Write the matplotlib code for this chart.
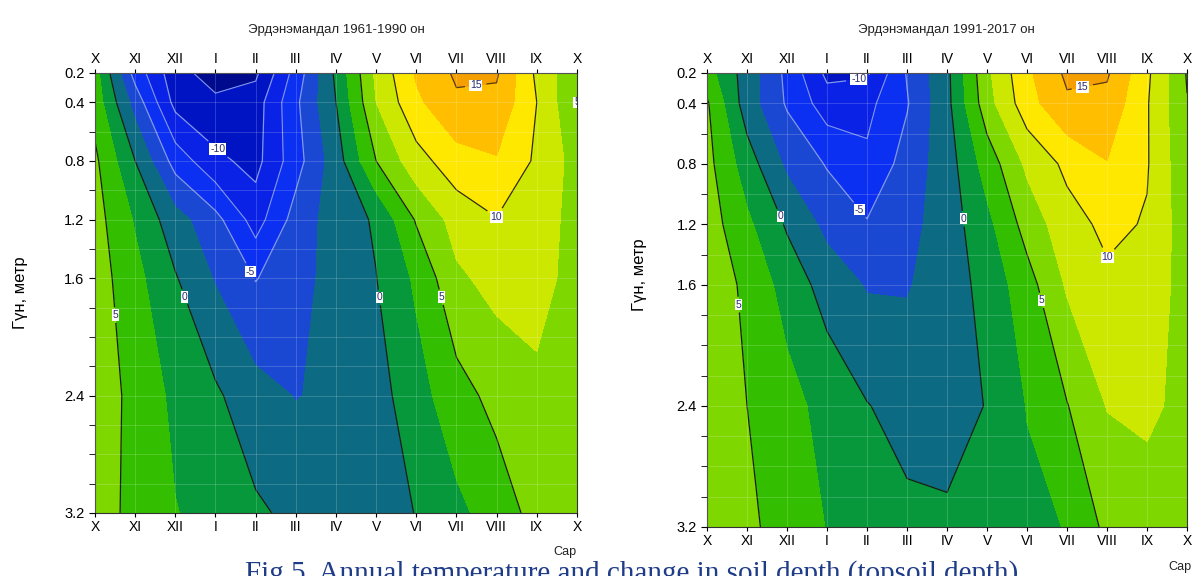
import numpy as np
import matplotlib.pyplot as plt
from matplotlib.colors import ListedColormap, BoundaryNorm
from matplotlib.ticker import FixedLocator, MultipleLocator

plt.rcParams['font.family'] = ['Liberation Sans', 'DejaVu Sans']

months = ['X', 'XI', 'XII', 'I', 'II', 'III', 'IV', 'V', 'VI', 'VII', 'VIII', 'IX', 'X']
depths = [0.2, 0.4, 0.8, 1.2, 1.6, 2.4, 3.2]
depth_ticks = [0.2, 0.4, 0.8, 1.2, 1.6, 2.4, 3.2]

# soil temperature, rows = depth, columns = month (X .. X)
t_1961 = [
    [3.5, -6.0, -11.6, -13.6, -13.0, -6.5, 0.5, 8.0, 12.8, 15.4, 15.3, 9.5, 5.5],
    [4.0, -3.5, -10.8, -12.0, -11.2, -5.5, 0.0, 7.5, 12.0, 14.6, 14.4, 10.0, 5.0],
    [5.5, 0.0, -6.0, -9.4, -10.8, -6.0, -1.2, 5.0, 9.0, 11.5, 12.3, 9.6, 6.5],
    [6.0, 2.25, -1.5, -4.2, -8.6, -4.0, -1.3, 0.3, 5.25, 8.46, 9.9, 8.2, 7.0],
    [6.3, 3.26, 0.2, -2.7, -5.1, -3.6, -1.4, -0.05, 2.94, 7.06, 8.3, 8.0, 7.0],
    [6.2, 4.4, 1.87, 0.4, -1.6, -2.6, -2.0, -1.0, 1.5, 4.0, 5.8, 7.2, 6.5],
    [6.0, 4.4, 2.6, 1.6, 0.4, -0.6, -1.0, -0.7, 0.05, 1.9, 3.6, 5.9, 6.3],
]

t_1991 = [
    [3.5, -1.17, -5.6, -10.6, -10.4, -4.8, -0.6, 7.0, 12.0, 15.5, 15.3, 10.5, 4.8],
    [5.3, -1.3, -5.3, -8.8, -8.2, -5.2, -0.7, 6.5, 11.5, 14.6, 14.3, 10.2, 5.1],
    [5.8, 1.2, -3.0, -5.2, -7.0, -4.0, -1.2, 3.6, 8.0, 10.6, 12.4, 10.2, 5.5],
    [6.3, 3.0, -0.3, -3.2, -4.8, -3.3, -1.3, 1.8, 6.0, 9.0, 10.6, 9.8, 6.0],
    [6.8, 4.4, 1.5, -1.0, -2.7, -2.7, -1.2, 0.8, 4.0, 7.8, 9.5, 8.5, 6.8],
    [7.2, 5.0, 3.4, 1.6, 0.1, -0.9, -1.0, 0.1, 2.6, 4.9, 7.6, 8.0, 6.8],
    [6.6, 5.4, 4.2, 2.4, 1.2, 0.6, 0.4, 0.9, 1.9, 2.6, 5.6, 6.3, 6.3],
]

levels = [-20, -12.5, -10, -7.5, -5, -2.5, 0, 2.5, 5, 7.5, 10, 12.5, 15, 25]
colors = ['#000A8C', '#0014C4', '#0A22E6', '#0C30F2', '#1A48D2', '#0C6A82',
          '#06983A', '#33BF00', '#7FD700', '#CDE800', '#FFE800', '#FFBF00', '#F5A000']
cmap = ListedColormap(colors)
norm = BoundaryNorm(levels, cmap.N)

# label spots (month index, depth)
labels_1961 = [(3.4, 0.6), (3.9, 1.55), (2.2, 1.73), (7.1, 1.73), (0.55, 1.85),
               (8.6, 1.73), (9.9, 1.22), (9.5, 0.33), (11.9, 0.38)]
labels_1991 = [(3.8, 0.27), (3.83, 1.1), (1.9, 1.14), (6.5, 1.16), (0.83, 1.73),
               (8.4, 1.7), (10.0, 1.43), (9.4, 0.32)]


def draw(ax, data, spots):
    x = np.arange(len(months))
    z = np.array(data)
    ax.contourf(x, depths, z, levels=levels, cmap=cmap, norm=norm)
    ax.contour(x, depths, z, levels=[-12.5, -7.5], colors='#8296EC',
               linewidths=0.8, linestyles='solid')
    lines = ax.contour(x, depths, z, levels=[-10, -5, 0, 5, 10, 15],
                       colors=['#8296EC', '#8296EC', '#1A1A1A', '#1A1A1A', '#2A2A10', '#5A3A10'],
                       linewidths=0.9, linestyles='solid')
    txt = ax.clabel(lines, fmt='%d', fontsize=7.5, inline=True, manual=spots)
    for t in txt:
        t.set_rotation(0)
        t.set_color('#2A2A70')
        t.set_bbox(dict(facecolor='white', edgecolor='none', pad=0.5))

    ax.set_xlim(0, 12)
    ax.set_ylim(3.2, 0.2)
    ax.set_xticks(x)
    ax.set_xticklabels(months)
    ax.yaxis.set_major_locator(FixedLocator(depth_ticks))
    ax.yaxis.set_minor_locator(MultipleLocator(0.2))
    ax.set_yticklabels(['0.2', '0.4', '0.8', '1.2', '1.6', '2.4', '3.2'])
    ax.tick_params(axis='x', top=True, labeltop=True, bottom=True, labelbottom=True,
                   direction='out', length=3, labelsize=10, pad=2)
    ax.tick_params(axis='y', which='both', direction='out', length=4, labelsize=10.5)
    ax.grid(True, which='both', color='white', alpha=0.2, lw=0.6)
    ax.set_axisbelow(False)
    for s in ax.spines.values():
        s.set_linewidth(0.8)
        s.set_color('#333333')
    ax.set_ylabel('Гүн, метр', fontsize=12)


fig = plt.figure(figsize=(11.98, 5.76), dpi=100)
ax1 = fig.add_axes([0.0793, 0.1094, 0.4023, 0.7639])
ax2 = fig.add_axes([0.5902, 0.0851, 0.4007, 0.7882])

draw(ax1, t_1961, labels_1961)
draw(ax2, t_1991, labels_1991)

ax1.yaxis.set_label_coords(-0.139, 0.5)
ax2.yaxis.set_label_coords(-0.125, 0.555)

fig.text(0.281, 0.948, 'Эрдэнэмандал 1961-1990 он', ha='center', va='center', fontsize=9.5, color='#222222')
fig.text(0.790, 0.948, 'Эрдэнэмандал 1991-2017 он', ha='center', va='center', fontsize=9.5, color='#222222')
fig.text(565 / 1198, 1 - 552 / 576, 'Сар', ha='center', va='center', fontsize=9, color='#222222')
fig.text(1180 / 1198, 1 - 567 / 576, 'Сар', ha='center', va='center', fontsize=9, color='#222222')

# caption, cut by the lower edge as in the source page
fig.text(0.527, -0.008, 'Fig.5. Annual temperature and change in soil depth (topsoil depth)',
         ha='center', va='baseline', fontsize=21, family='Liberation Serif', color='#1F3C88')

fig.savefig('out.png', dpi=100)
